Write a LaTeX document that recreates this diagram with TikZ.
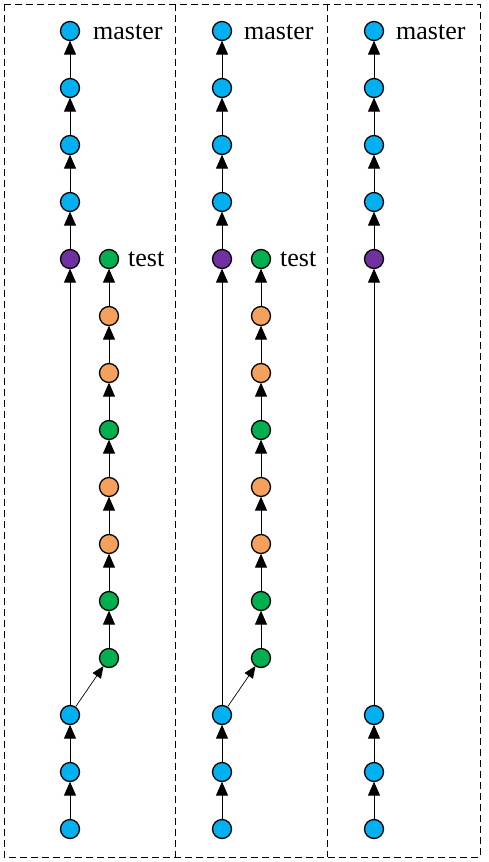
\documentclass[tikz,border=0pt]{standalone}
\usepackage{fontspec}
\setmainfont{Liberation Serif}
\usetikzlibrary{arrows.meta}
\definecolor{cblue}{HTML}{00B0F0}
\definecolor{cpurple}{HTML}{7030A0}
\definecolor{cgreen}{HTML}{00B050}
\definecolor{corange}{HTML}{F4A15D}
\begin{document}
\begin{tikzpicture}[x=1pt,y=-1pt,
  commit/.style={circle,draw=black,line width=1.3pt,minimum size=19pt,inner sep=0pt},
  frame/.style={draw=black,line width=0.8pt,dash pattern=on 7pt off 4pt},
  arr/.style={line width=1pt,-{Triangle[length=14pt,width=12pt]},shorten >=-0.5pt},
  darr/.style={line width=0.7pt,-{Triangle[length=12pt,width=10pt]},shorten >=-0.5pt},
  lbl/.style={font=\fontsize{26}{30}\selectfont,inner sep=0pt,anchor=base west}]
\useasboundingbox (0,0) rectangle (489,862);
\draw[frame] (4,4) rectangle (480,857);
\draw[frame] (175,4) -- (175,857);
\draw[frame] (327,4) -- (327,857);
% main columns
\foreach \P/\X in {A/70,B/222,C/374}{
  \foreach \i in {0,1,2,3,12,13,14}
    \node[commit,fill=cblue] (\P\i) at (\X,31+57*\i) {};
  \node[commit,fill=cpurple] (\P4) at (\X,259) {};
  \foreach \i/\j in {1/0,2/1,3/2,4/3,12/4,13/12,14/13}
    \draw[arr] (\P\i) -- (\P\j);
}
% side branches
\foreach \P/\X in {A/109,B/261}{
  \foreach \i/\c in {4/cgreen,5/corange,6/corange,7/cgreen,8/corange,9/corange,10/cgreen,11/cgreen}
    \node[commit,fill=\c] (S\P\i) at (\X,31+57*\i) {};
  \foreach \i/\j in {5/4,6/5,7/6,8/7,9/8,10/9,11/10}
    \draw[arr] (S\P\i) -- (S\P\j);
  \draw[darr] (\P12) -- (S\P11);
}
% labels
\node[lbl] (mA) at (93,39.4) {master};
\node[lbl] (mB) at (244,39.4) {master};
\node[lbl] (mC) at (396,39.4) {master};
\node[lbl] (tA) at (128,266.6) {test};
\node[lbl] (tB) at (280,266.6) {test};
\end{tikzpicture}
\end{document}
